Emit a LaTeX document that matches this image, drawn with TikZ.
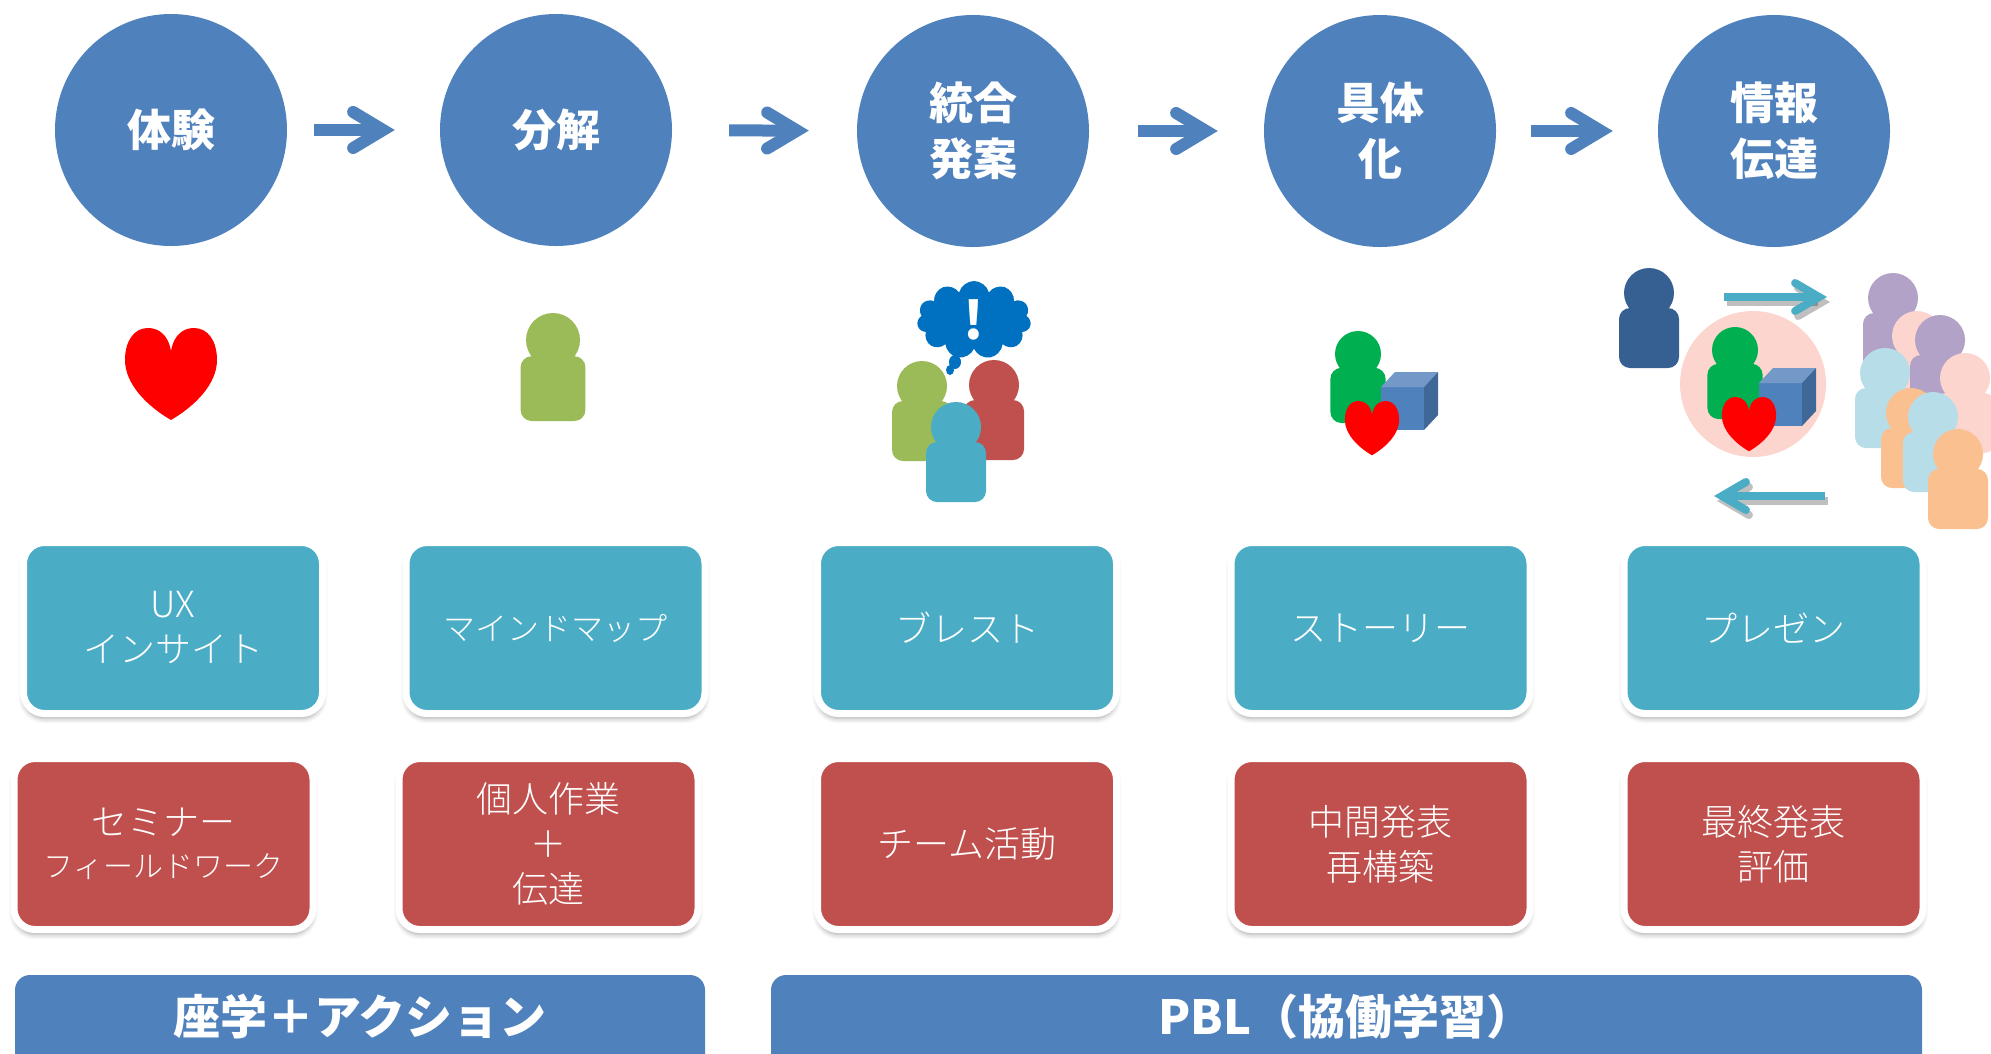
\documentclass[tikz,border=0pt]{standalone}
\usepackage{fontspec}
\setmainfont{Noto Sans CJK JP}
\newfontfamily\thinjp{Noto Sans CJK JP Light}
\usepackage{tikz}
\usetikzlibrary{arrows.meta,shapes.symbols,shadows.blur}

\definecolor{stageblue}{HTML}{4F81BD}
\definecolor{methodteal}{HTML}{4BACC6}
\definecolor{actred}{HTML}{C0504D}
\definecolor{ideablue}{HTML}{0070C0}
\definecolor{heartred}{HTML}{FF0000}
\definecolor{pgreen}{HTML}{9BBB59}
\definecolor{pred}{HTML}{C0504D}
\definecolor{pteal}{HTML}{4BACC6}
\definecolor{pvivid}{HTML}{00B050}
\definecolor{pnavy}{HTML}{376092}
\definecolor{ppurple}{HTML}{B3A2C7}
\definecolor{ppink}{HTML}{FCD5CE}
\definecolor{psky}{HTML}{B7DEE8}
\definecolor{porange}{HTML}{FAC090}
\definecolor{cubefront}{HTML}{4F81BD}
\definecolor{cubetop}{HTML}{7399C9}
\definecolor{cubeside}{HTML}{3F6899}

\begin{document}
\begin{tikzpicture}[x=1pt,y=-1pt,
    stage/.style={circle, fill=stageblue, minimum size=232pt, inner sep=0pt,
        text=white, align=center, font=\bfseries\fontsize{44}{56}\selectfont},
    stagearrow/.style={draw=stageblue, line width=12pt,
        -{Straight Barb[length=30pt,width=36pt,line cap=round]}},
    card/.style={rectangle, rounded corners=21pt, draw=white, line width=7pt,
        minimum width=299pt, minimum height=171pt, inner sep=0pt,
        text=white, align=center, font=\thinjp\fontsize{36}{45}\selectfont,
        blur shadow={shadow xshift=0pt, shadow yshift=-5pt,
            shadow blur radius=5pt, shadow opacity=35}},
    method/.style={card, fill=methodteal},
    activity/.style={card, fill=actred},
    footer/.style={text=white, font=\bfseries\fontsize{47}{56}\selectfont},
    sharearrow/.style={draw=methodteal, line width=8pt,
        -{Straight Barb[length=24pt,width=28pt,line cap=round]}},
    pics/person/.style={code={
        \fill[#1, rounded corners=11pt] (-30,15) rectangle (30,75);
        \fill[#1] (0,0) circle (25);}},
    pics/heart/.style={code={
        \fill[heartred] (0,23) .. controls (3,6) and (13,0) .. (23,0)
            .. controls (37,0) and (46,13) .. (46,32)
            .. controls (46,56) and (24,78) .. (0,92)
            .. controls (-24,78) and (-46,56) .. (-46,32)
            .. controls (-46,13) and (-37,0) .. (-23,0)
            .. controls (-13,0) and (-3,6) .. (0,23) -- cycle;}},
    pics/cube/.style={code={
        \fill[cubefront] (0,0) rectangle (43,43);
        \fill[cubetop] (0,0) -- (14,-15) -- (57,-15) -- (43,0) -- cycle;
        \fill[cubeside] (43,0) -- (57,-15) -- (57,28) -- (43,43) -- cycle;}}
]
    \useasboundingbox (0,0) rectangle (1991,1053);
    \clip (0,0) rectangle (1991,1053);

    % Stages
    \node[stage] (exp) at (171,130) {体験};
    \node[stage] (dec) at (556,130) {分解};
    \node[stage] (syn) at (973,131) {統合\\発案};
    \node[stage] (con) at (1380,131) {具体\\化};
    \node[stage] (com) at (1774,131) {情報\\伝達};

    % Connections
    \draw[stagearrow, shorten <=27pt, shorten >=45pt] (exp) -- (dec);
    \draw[stagearrow, shorten <=57pt, shorten >=48pt] (dec) -- (syn);
    \draw[stagearrow, shorten <=49pt, shorten >=46pt] (syn) -- (con);
    \draw[stagearrow, shorten <=35pt, shorten >=45pt] (con) -- (com);

    % Icons
    \pic at (171,328) {heart};
    \pic[scale=1.08] at (553,340) {person=pgreen};

    \node[cloud, cloud puffs=11, aspect=1.5, fill=ideablue, minimum width=114pt,
        minimum height=78pt, inner sep=0pt, text=white,
        font=\bfseries\fontsize{52}{52}\selectfont] (idea) at (974,320) {!};
    \fill[ideablue] (955,362) ellipse (6 and 7);
    \fill[ideablue] (950,370) ellipse (4 and 5);
    \pic at (922,386) {person=pgreen};
    \pic at (994,385) {person=pred};
    \pic at (956,427) {person=pteal};

    \pic[scale=.92] at (1358,354) {person=pvivid};
    \pic at (1381,387) {cube};
    \pic[scale=.59] at (1372,401) {heart};

    \pic at (1649,293) {person=pnavy};
    \fill[ppink] (1753,384) circle (73);
    \pic[scale=.92] at (1735,350) {person=pvivid};
    \pic at (1759,383) {cube};
    \pic[scale=.59] at (1749,397) {heart};

    \pic at (1893,298) {person=ppurple};
    \pic at (1917,336) {person=ppink};
    \pic at (1940,340) {person=ppurple};
    \pic at (1885,373) {person=psky};
    \pic at (1965,378) {person=ppink};
    \pic at (1911,413) {person=porange};
    \pic at (1933,417) {person=psky};
    \pic at (1958,454) {person=porange};

    \coordinate (talk) at (1724,297);
    \coordinate (crowd) at (1827,297);
    \coordinate (reply) at (1825,496);
    \coordinate (back) at (1714,496);
    \draw[sharearrow, draw=black, opacity=.25, transform canvas={shift={(3pt,-5pt)}}] (talk) -- (crowd);
    \draw[sharearrow, draw=black, opacity=.25, transform canvas={shift={(3pt,-5pt)}}] (reply) -- (back);
    \draw[sharearrow] (talk) -- (crowd);
    \draw[sharearrow] (reply) -- (back);

    % Methods
    \node[method] (ux) at (173,628) {UX\\インサイト};
    \node[method] (mindmap) at (555.5,628) {\fontsize{32}{40}\selectfont マインドマップ};
    \node[method] (brainstorm) at (967,628) {ブレスト};
    \node[method] (story) at (1380.5,628) {ストーリー};
    \node[method] (pres) at (1773.5,628) {プレゼン};

    % Activities
    \node[activity] (seminar) at (163.5,844) {セミナー\\[-3pt]{\fontsize{30}{36}\selectfont フィールドワーク}};
    \node[activity] (solo) at (548.5,844) {個人作業\\＋\\伝達};
    \node[activity] (team) at (967,844) {チーム活動};
    \node[activity] (midterm) at (1380.5,844) {中間発表\\再構築};
    \node[activity] (final) at (1773.5,844) {最終発表\\評価};

    % Footer
    \fill[stageblue, rounded corners=15pt] (15,975) rectangle (705,1110);
    \fill[stageblue, rounded corners=15pt] (771,975) rectangle (1922,1110);
    \node[footer] (lecture) at (360,1017) {座学＋アクション};
    \node[footer] (pbl) at (1346,1017) {PBL（協働学習）};
\end{tikzpicture}
\end{document}
